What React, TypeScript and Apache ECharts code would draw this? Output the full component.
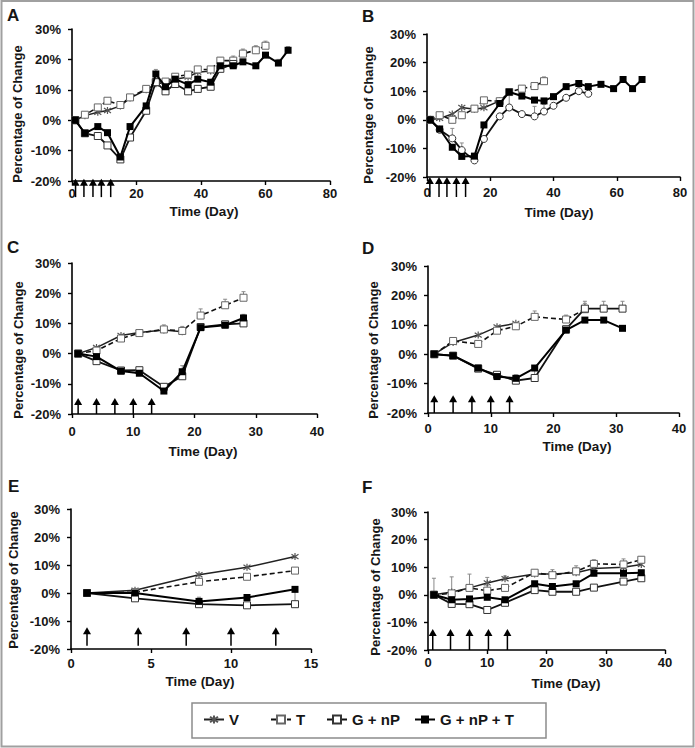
import React, { useEffect, useRef } from 'react';
import * as echarts from 'echarts';

const FONT = '"Liberation Sans", Arial, sans-serif';
const TXT = '#161616';

// ---------------- data ----------------
const seriesNames = ['V', 'T', 'G + nP', 'G + nP + T'];
const yTicks = [-20, -10, 0, 10, 20, 30];

// Panel A
const daysA = [1, 4, 8, 11, 15, 18, 23, 26, 29, 32, 36, 39, 43, 46, 50, 53, 57, 60, 64, 67];
const vA = [0, 1.5, 2.6, 3.2, 4.7, 7.3, 10, 12, 12.3, 13.5, 14.2, 15.8, 16.2];
const tA = [0, 1.8, 4.2, 6.4, 5.0, 7.5, 10.3, 12.5, 12.7, 14.3, 15, 16.7, 16.7, 19.6, 19.6, 21.9, 23, 24.5];
const gA = [0, -4.3, -5.2, -8.3, -12.9, -5.7, 3.1, 12.5, 9.5, 11.9, 9.5, 10.3, 11, 16.9, 18.5];
const gtA = [0, -4.3, -2.1, -4.1, -12.1, -2.1, 4.7, 15.2, 11, 13.5, 11.7, 13.5, 12.5, 17.9, 17.9, 19.2, 17.9, 21.4, 18.8, 23];
const errTA = [0, 0, 0, 0, 0, 0, 0, 0, 0, 0, 0, 0, 0, 1, 1.5, 1.5, 1.5, 1.5];
const errGtA = [0, 0, 0, 0, 0, 0, 0, 1.5, 0, 0, 0, 0, 0, 0, 0, 0, 0, 0, 1.2, 1.2];
const arrowsA = [1.1, 3.7, 6.5, 9.1, 12];

// Panel B
const daysB = [1, 4, 8, 11, 15, 18, 23, 26, 30, 34, 37, 40, 44, 48, 51, 55, 59, 62, 65, 68];
const vB = [0, 0.5, 2, 4.3, 3.7, 4.2, 6.6];
const tB = [0, 1.6, 0, 1.6, 3.9, 6.8, 6.5, 9.7, 10.9, 11.8, 13.5];
const gB = [0, -3.5, -6.5, -10.6, -14.2, -6.7, 1.2, 4.3, 2, 1.2, 2.9, 4.9, 7.7, 10, 9.1];
const gtB = [0, -3.2, -9.6, -12.8, -12.7, -1.8, 5.7, 9.7, 8.3, 6.9, 6.6, 8.1, 11.6, 12.7, 11.6, 12.4, 10.9, 14.1, 10.9, 14.1];
const errGB = [0, 0, 3.5, 2.5, 0, 0, 0, 4.5, 0, 3.5, 2.5, 0, 0, 0, 0];
const errTB = [0, 0, 0, 0, 0, 0, 0, 0, 0, 0, 1.5];
const arrowsB = [0.9, 3.8, 6.3, 9.3, 12.2];

// Panel C
const daysC = [1, 4, 8, 11, 15, 18, 21, 25, 28];
const vC = [0, 2, 6, 7, 7.8, 7.2];
const tC = [0, 1, 5, 6.8, 8, 7.5, 12.6, 16, 18.5];
const gC = [0, -2.5, -5.6, -5.5, -11, -7.5, 8.8, 9.7, 10];
const gtC = [0, -1, -5.8, -6.5, -12.4, -6, 8.6, 9.4, 11.8];
const errTC = [0, 0, 0, 0, 1.5, 1.5, 2.2, 2, 2];
const errGtC = [0, 0, 0, 0, 0, 2, 0, 0, 1.2];
const arrowsC = [1, 4, 7, 10, 13];

// Panel D
const daysD = [1, 4, 8, 11, 14, 17, 22, 25, 28, 31];
const vD = [0, 4, 6.5, 9.3, 10.5];
const tD = [0, 4.5, 3.5, 8, 9.5, 12.7, 11.8, 15.3];
const gD = [0, -0.5, -4.9, -7, -9, -8.1, 8.5, 15.5, 15.5, 15.5];
const gtD = [0, -0.5, -4.7, -7.6, -8.2, -4.7, 8.2, 11.6, 11.6, 8.8];
const errTD = [0, 0, 0, 0, 0, 2, 1.5, 2];
const errGD = [0, 0, 0, 0, 2, 3.5, 0, 2.5, 2.5, 2.5];
const arrowsD = [1, 4, 7, 10, 13];

// Panel E
const daysE = [1, 4, 8, 11, 14];
const vE = [0, 1, 6.5, 9.2, 13];
const tE = [0, 0.3, 4, 5.8, 8];
const gE = [0, -1.9, -4, -4.4, -4];
const gtE = [0, 0, -3, -1.6, 1.3];
const errGtE = [0, 0, 1.5, 0, 0];
const errGE = [0, 0, 0, 0, 5.2];
const arrowsE = [1, 4.2, 7.2, 10, 12.8];

// Panel F
const daysF = [1, 4, 7, 10, 13, 18, 21, 25, 28, 33, 36];
const vF = [0, 1, 2.5, 4.3, 5.8, 7.5, 7.5, 8, 9.5, 10, 11];
const tF = [0, 0.5, 2.5, 1.5, 2.5, 8, 7.1, 8.5, 11.2, 11, 12.7];
const gF = [0, -3.3, -3.4, -5.5, -2.9, 1.7, 1.1, 1.1, 2.6, 4.8, 6];
const gtF = [0, -1.8, -1.5, -0.9, -1.8, 4, 3, 4, 7.8, 7.8, 8];
const errVF = [6, 5.5, 5, 2, 1, 0, 0, 0, 0, 0, 0];
const errTF = [0, 0, 0, 2, 0, 0, 2, 2, 1.5, 2, 1];
const arrowsF = [0.8, 3.8, 7, 10.2, 13.4];

// ---------------- layout ----------------
type Panel = {
  letter: string;
  grid: { left: number; top: number; width: number; height: number };
  xMax: number;
  xInterval: number;
  labelMargin: number;
  letterPos: [number, number];
  yNamePos: [number, number];
  xNamePos: [number, number];
  days: number[];
  v: number[];
  t: number[];
  g: number[];
  gt: number[];
  errs: { vals: number[]; err: number[] }[];
  gSymbol: string;
  arrows: number[];
  arrowTip: number;
  arrowBase: number;
};

const panels: Panel[] = [
  {
    letter: 'A', grid: { left: 72, top: 29, width: 258, height: 152 }, xMax: 80, xInterval: 20, labelMargin: 6,
    letterPos: [7, 15], yNamePos: [17, 114], xNamePos: [204, 211],
    days: daysA, v: vA, t: tA, g: gA, gt: gtA,
    errs: [{ vals: tA, err: errTA }, { vals: gtA, err: errGtA }],
    gSymbol: 'rect', arrows: arrowsA, arrowTip: -19.3, arrowBase: -25.3,
  },
  {
    letter: 'B', grid: { left: 427, top: 34, width: 253, height: 143 }, xMax: 80, xInterval: 20, labelMargin: 9,
    letterPos: [362, 16.5], yNamePos: [368, 115], xNamePos: [559, 212],
    days: daysB, v: vB, t: tB, g: gB, gt: gtB,
    errs: [{ vals: gB, err: errGB }, { vals: tB, err: errTB }],
    gSymbol: 'circle', arrows: arrowsB, arrowTip: -20, arrowBase: -27,
  },
  {
    letter: 'C', grid: { left: 72, top: 263, width: 245, height: 151 }, xMax: 40, xInterval: 10, labelMargin: 10.5,
    letterPos: [7, 247], yNamePos: [18, 350], xNamePos: [203, 451],
    days: daysC, v: vC, t: tC, g: gC, gt: gtC,
    errs: [{ vals: tC, err: errTC }, { vals: gtC, err: errGtC }],
    gSymbol: 'rect', arrows: arrowsC, arrowTip: -14.7, arrowBase: -20,
  },
  {
    letter: 'D', grid: { left: 428, top: 266, width: 251, height: 147 }, xMax: 40, xInterval: 10, labelMargin: 8.5,
    letterPos: [362, 248], yNamePos: [373, 350], xNamePos: [577, 446],
    days: daysD, v: vD, t: tD, g: gD, gt: gtD,
    errs: [{ vals: tD, err: errTD }, { vals: gD, err: errGD }],
    gSymbol: 'rect', arrows: arrowsD, arrowTip: -14, arrowBase: -20,
  },
  {
    letter: 'E', grid: { left: 71, top: 509, width: 240, height: 140 }, xMax: 15, xInterval: 5, labelMargin: 8,
    letterPos: [8, 486], yNamePos: [13, 580], xNamePos: [200, 681],
    days: daysE, v: vE, t: tE, g: gE, gt: gtE,
    errs: [{ vals: gtE, err: errGtE }, { vals: gE, err: errGE }],
    gSymbol: 'rect', arrows: arrowsE, arrowTip: -12.2, arrowBase: -18.8,
  },
  {
    letter: 'F', grid: { left: 428, top: 512, width: 237, height: 138 }, xMax: 40, xInterval: 10, labelMargin: 6,
    letterPos: [362, 487.5], yNamePos: [375, 587], xNamePos: [566, 683.5],
    days: daysF, v: vF, t: tF, g: gF, gt: gtF,
    errs: [{ vals: vF, err: errVF }, { vals: tF, err: errTF }],
    gSymbol: 'rect', arrows: arrowsF, arrowTip: -12.4, arrowBase: -20,
  },
];

const ASTERISK = 'path://M5 0L5 10M1 1.5L9 8.5M9 1.5L1 8.5';

const pts = (days: number[], vals: number[]) => vals.map((v, i) => [days[i], v]);

function buildOption() {
  const grid: any[] = [];
  const xAxis: any[] = [];
  const yAxis: any[] = [];
  const series: any[] = [];
  const graphic: any[] = [];

  const labelStyle = { fontFamily: FONT, fontWeight: 'bold', fontSize: 13, color: TXT };

  panels.forEach((p, i) => {
    grid.push({ ...p.grid });
    xAxis.push({
      gridIndex: i, type: 'value', min: 0, max: p.xMax, interval: p.xInterval,
      axisLine: { onZero: false, lineStyle: { color: '#000', width: 1.6 } },
      axisTick: { show: true, length: 4, lineStyle: { color: '#000', width: 1.4 } },
      axisLabel: { ...labelStyle, margin: p.labelMargin },
      splitLine: { show: false },
    });
    yAxis.push({
      gridIndex: i, type: 'value', min: yTicks[0], max: yTicks[yTicks.length - 1], interval: 10,
      axisLine: { show: true, onZero: false, lineStyle: { color: '#000', width: 1.6 } },
      axisTick: { show: true, length: 4, lineStyle: { color: '#000', width: 1.4 } },
      axisLabel: { ...labelStyle, margin: 11, formatter: '{value}%' },
      splitLine: { show: false },
    });

    // error bars (under the lines)
    const errData: number[][] = [];
    p.errs.forEach(({ vals, err }) => {
      err.forEach((e, k) => {
        if (e > 0 && k < vals.length) errData.push([p.days[k], vals[k], vals[k] + e]);
      });
    });
    series.push({
      type: 'custom', xAxisIndex: i, yAxisIndex: i, silent: true, z: 1,
      data: errData,
      renderItem: (_params: any, api: any) => {
        const lo = api.coord([api.value(0), api.value(1)]);
        const hi = api.coord([api.value(0), api.value(2)]);
        return {
          type: 'group',
          children: [
            { type: 'line', shape: { x1: lo[0], y1: lo[1], x2: hi[0], y2: hi[1] }, style: { stroke: '#8a8a8a', lineWidth: 1 } },
            { type: 'line', shape: { x1: hi[0] - 2, y1: hi[1], x2: hi[0] + 2, y2: hi[1] }, style: { stroke: '#8a8a8a', lineWidth: 1 } },
          ],
        };
      },
    });

    // V
    series.push({
      name: seriesNames[0], type: 'line', xAxisIndex: i, yAxisIndex: i, z: 3,
      data: pts(p.days, p.v), symbol: ASTERISK, symbolSize: 7, showAllSymbol: true,
      lineStyle: { color: '#222', width: 1.5 },
      itemStyle: { color: '#555', borderColor: '#555', borderWidth: 1.2 },
    });
    // T
    series.push({
      name: seriesNames[1], type: 'line', xAxisIndex: i, yAxisIndex: i, z: 3,
      data: pts(p.days, p.t), symbol: 'rect', symbolSize: 7, showAllSymbol: true,
      lineStyle: { color: '#111', width: 1.6, type: [5, 3] },
      itemStyle: { color: '#fff', borderColor: '#666', borderWidth: 1 },
    });
    // G + nP
    series.push({
      name: seriesNames[2], type: 'line', xAxisIndex: i, yAxisIndex: i, z: 4,
      data: pts(p.days, p.g), symbol: p.gSymbol, symbolSize: 7, showAllSymbol: true,
      lineStyle: { color: '#111', width: 1.8 },
      itemStyle: { color: '#fff', borderColor: '#333', borderWidth: 1 },
    });
    // G + nP + T
    series.push({
      name: seriesNames[3], type: 'line', xAxisIndex: i, yAxisIndex: i, z: 5,
      data: pts(p.days, p.gt), symbol: 'rect', symbolSize: 7, showAllSymbol: true,
      lineStyle: { color: '#000', width: 2 },
      itemStyle: { color: '#000', borderColor: '#000', borderWidth: 0 },
    });

    // treatment arrows
    series.push({
      type: 'custom', xAxisIndex: i, yAxisIndex: i, silent: true, z: 6, clip: false,
      data: p.arrows.map((d) => [d, p.arrowTip]),
      renderItem: (_params: any, api: any) => {
        const x = api.value(0);
        const tip = api.coord([x, p.arrowTip]);
        const base = api.coord([x, p.arrowBase]);
        const hh = 7;
        const hw = 4;
        return {
          type: 'group',
          children: [
            { type: 'line', shape: { x1: base[0], y1: base[1], x2: tip[0], y2: tip[1] + hh - 1 }, style: { stroke: '#000', lineWidth: 1.5 } },
            { type: 'polygon', shape: { points: [[tip[0], tip[1]], [tip[0] - hw, tip[1] + hh], [tip[0] + hw, tip[1] + hh]] }, style: { fill: '#000' } },
          ],
        };
      },
    });

    graphic.push({
      type: 'text', x: p.letterPos[0], y: p.letterPos[1],
      style: { text: p.letter, fill: TXT, fontFamily: FONT, fontWeight: 'bold', fontSize: 17, align: 'left', verticalAlign: 'middle' },
    });
    graphic.push({
      type: 'text', x: p.yNamePos[0], y: p.yNamePos[1], rotation: Math.PI / 2,
      style: { text: 'Percentage of Change', fill: TXT, fontFamily: FONT, fontWeight: 'bold', fontSize: 13, align: 'center', verticalAlign: 'middle' },
    });
    graphic.push({
      type: 'text', x: p.xNamePos[0], y: p.xNamePos[1],
      style: { text: 'Time (Day)', fill: TXT, fontFamily: FONT, fontWeight: 'bold', fontSize: 13.5, align: 'center', verticalAlign: 'middle' },
    });
  });

  // frame and legend box
  graphic.push({
    type: 'rect', shape: { x: 1.5, y: 1, width: 692, height: 745.5 }, silent: true,
    style: { fill: 'none', stroke: '#a0a0a0', lineWidth: 2 },
  });
  graphic.push({
    type: 'rect', shape: { x: 192, y: 703, width: 354, height: 35 }, silent: true,
    style: { fill: 'none', stroke: '#8c8c8c', lineWidth: 1.5 },
  });

  const legendLefts = [203, 270, 326, 414];
  const legend = seriesNames.map((n, k) => ({
    data: [n], left: legendLefts[k], top: 712, padding: 0, itemWidth: 20, itemHeight: 10,
    selectedMode: false,
    textStyle: { fontFamily: FONT, fontWeight: 'bold', fontSize: 15, color: TXT },
  }));

  return { animation: false, backgroundColor: '#fff', grid, xAxis, yAxis, series, graphic, legend };
}

export default function App() {
  const ref = useRef<HTMLDivElement>(null);
  useEffect(() => {
    if (!ref.current) return;
    const chart = echarts.init(ref.current, undefined, { renderer: 'svg' });
    chart.setOption(buildOption() as any);
    return () => chart.dispose();
  }, []);
  return (
    <div
      ref={ref}
      style={{ position: 'fixed', left: 0, top: 0, width: 695, height: 748, background: '#fff' }}
    />
  );
}
